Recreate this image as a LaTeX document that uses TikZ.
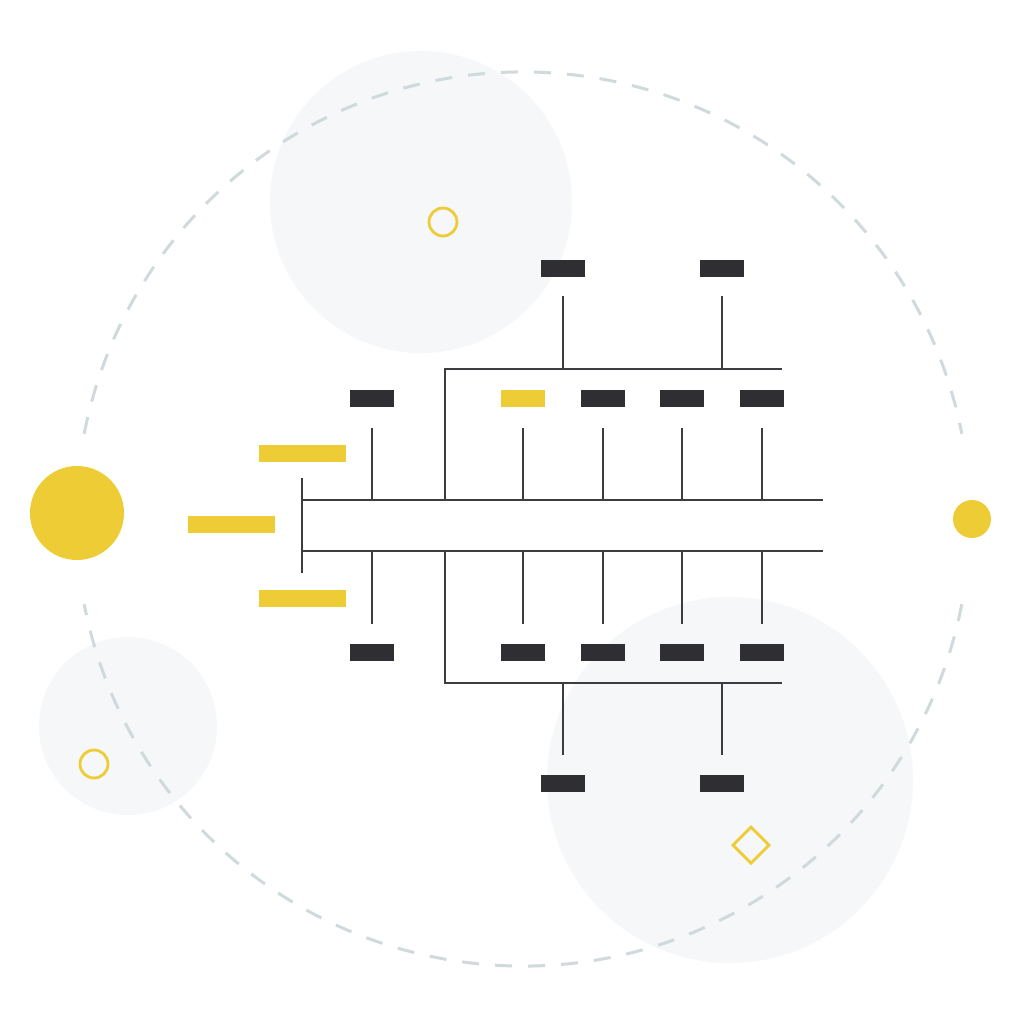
\documentclass[tikz,border=0pt]{standalone}
\usetikzlibrary{positioning}
\definecolor{ink}{HTML}{2E2E33}
\definecolor{wirecol}{HTML}{3C3C41}
\definecolor{sun}{HTML}{EECC36}
\definecolor{mist}{HTML}{F5F7F9}
\definecolor{ringcol}{HTML}{D0D9DC}
\tikzset{
  tag/.style={rectangle, fill=ink, inner sep=0pt, minimum width=0.44cm, minimum height=0.17cm},
  hot/.style={tag, fill=sun},
  cause/.style={rectangle, fill=sun, inner sep=0pt, minimum width=0.87cm, minimum height=0.17cm},
  wire/.style={draw=wirecol, line width=0.45pt},
  orbit/.style={draw=ringcol, line width=0.85pt, dash pattern=on 0.17cm off 0.16cm},
  outline/.style={draw=sun, line width=0.8pt},
}
\begin{document}
\begin{tikzpicture}[x=0.01cm, y=-0.01cm]
    \useasboundingbox (0,0) rectangle (1020,1020);
    \fill[white] (0,0) rectangle (1020,1020);
    % soft background discs
    \fill[mist] (421,202) circle[radius=151];
    \fill[mist] (730,780) circle[radius=183];
    \fill[mist] (128,726) circle[radius=89];
    % dashed orbit, open at both sides
    \draw[orbit] ([shift={(11:447)}]523,519) arc[start angle=11, end angle=169, radius=447];
    \draw[orbit] ([shift={(191:447)}]523,519) arc[start angle=191, end angle=349, radius=447];
    % yellow accents
    \fill[sun] (77,513) circle[radius=47];
    \fill[sun] (972,519) circle[radius=19];
    \draw[outline] (443,222) circle[radius=14];
    \draw[outline] (94,764) circle[radius=14];
    \draw[outline] (751,827) -- (769,845) -- (751,863) -- (733,845) -- cycle;
    % spine
    \coordinate (spineTL) at (302,500);
    \coordinate (spineBL) at (302,551);
    \coordinate (spineTR) at (823,500);
    \coordinate (spineBR) at (823,551);
    \draw[wire] (spineTR) -- (spineTL);
    \draw[wire] (spineBR) -- (spineBL);
    \draw[wire] (302,478) -- (302,573);
    % causes on the left
    \node[cause] (c1) at (302.5,453.5) {};
    \node[cause] (c2) at (231.5,524) {};
    \node[cause] (c3) at (302.5,598) {};
    % ribs above and below
    \foreach \x/\s [count=\i] in {372/tag,523/hot,603/tag,682/tag,762/tag} {
        \node[\s] (up\i) at (\x,398.5) {};
        \node[tag] (dn\i) at (\x,652.5) {};
        \draw[wire] ([yshift=-0.2cm]up\i.south) -- (up\i.south |- spineTL);
        \draw[wire] ([yshift=0.19cm]dn\i.north) -- (dn\i.north |- spineBL);
    }
    % brackets with sub-branches
    \coordinate (armUp) at (445,369);
    \coordinate (armUpEnd) at (782,369);
    \coordinate (armDn) at (445,683);
    \coordinate (armDnEnd) at (782,683);
    \draw[wire] (armUp |- spineTL) -- (armUp) -- (armUpEnd);
    \draw[wire] (armDn |- spineBL) -- (armDn) -- (armDnEnd);
    \foreach \x [count=\i] in {563,722} {
        \node[tag] (top\i) at (\x,268.5) {};
        \node[tag] (bot\i) at (\x,783.5) {};
        \draw[wire] ([yshift=-0.18cm]top\i.south) -- (top\i.south |- armUp);
        \draw[wire] ([yshift=0.19cm]bot\i.north) -- (bot\i.north |- armDn);
    }
\end{tikzpicture}
\end{document}
